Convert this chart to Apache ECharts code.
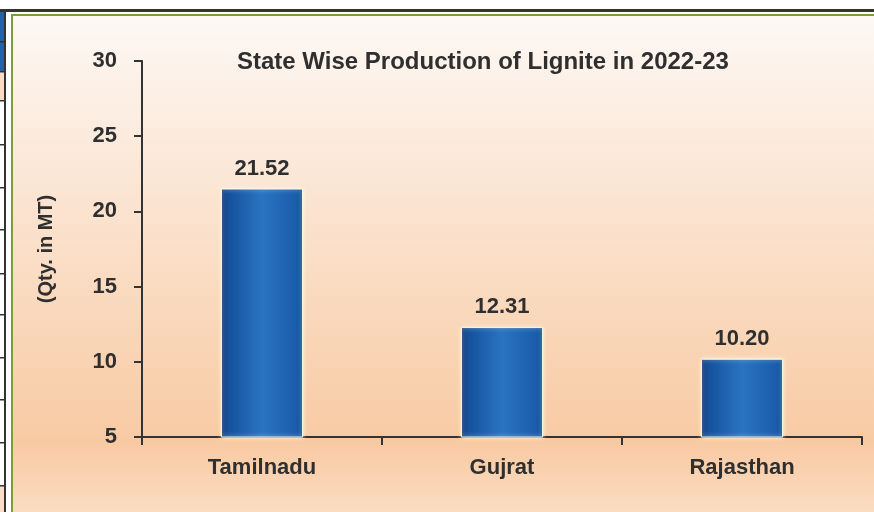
<!DOCTYPE html>
<html>
<head>
<meta charset="utf-8">
<script src="https://cdn.jsdelivr.net/npm/echarts@6/dist/echarts.min.js"></script>
<style>
  html, body { margin: 0; padding: 0; background: #fff; }
  #chart { width: 874px; height: 512px; }
</style>
</head>
<body>
<div id="chart"></div>
<script>
const states = ['Tamilnadu', 'Gujrat', 'Rajasthan']
const production = [21.52, 12.31, 10.20]
const yTicks = { min: 5, max: 30, step: 5 }

const textColor = '#2f2f2f'
const font = 'Liberation Sans, Arial, sans-serif'

// horizontal rule positions of the table strip at the left edge
const stripRows = [41, 71, 100, 144, 187, 229, 273, 314, 357, 399, 442, 485]

function frameGraphics() {
  const items = [
    {
      type: 'rect', z: -10, silent: true,
      shape: { x: 13, y: 16, width: 861, height: 496 },
      style: {
        fill: new echarts.graphic.LinearGradient(0, 0, 0, 1, [
          { offset: 0, color: '#fdf8f4' },
          { offset: 0.3, color: '#fbe8d8' },
          { offset: 0.86, color: '#f8caa3' },
          { offset: 1, color: '#fbdcc1' }
        ])
      }
    },
    { type: 'rect', z: -9, silent: true, shape: { x: 0, y: 12, width: 4, height: 29 }, style: { fill: '#1f63ad' } },
    { type: 'rect', z: -9, silent: true, shape: { x: 0, y: 42, width: 4, height: 29 }, style: { fill: '#1f63ad' } },
    { type: 'rect', z: -9, silent: true, shape: { x: 0, y: 72, width: 4, height: 28 }, style: { fill: '#f9dcc3' } },
    { type: 'rect', z: -9, silent: true, shape: { x: 0, y: 486, width: 4, height: 26 }, style: { fill: '#f9dcc3' } },
    // dark outer frame
    { type: 'rect', z: -8, silent: true, shape: { x: 0, y: 9, width: 874, height: 3 }, style: { fill: '#333333' } },
    { type: 'rect', z: -8, silent: true, shape: { x: 4, y: 9, width: 2, height: 503 }, style: { fill: '#333333' } },
    // green inner frame
    { type: 'rect', z: -8, silent: true, shape: { x: 11, y: 14, width: 863, height: 2 }, style: { fill: '#7a9e3a' } },
    { type: 'rect', z: -8, silent: true, shape: { x: 11, y: 14, width: 2, height: 498 }, style: { fill: '#7a9e3a' } }
  ]
  stripRows.forEach(y => {
    items.push({
      type: 'rect', z: -8, silent: true,
      shape: { x: 0, y: y, width: 4, height: 1.5 },
      style: { fill: '#333333' }
    })
  })
  return items
}

const barFill = new echarts.graphic.LinearGradient(0, 0, 1, 0, [
  { offset: 0, color: '#0a3670' },
  { offset: 0.08, color: '#14509a' },
  { offset: 0.5, color: '#2a74c2' },
  { offset: 0.9, color: '#1a5ead' },
  { offset: 1, color: '#154f95' }
])

const chart = echarts.init(document.getElementById('chart'))
chart.setOption({
  animation: false,
  backgroundColor: '#ffffff',
  title: {
    text: 'State Wise Production of Lignite in 2022-23',
    left: 232,
    top: 45,
    textStyle: { color: textColor, fontFamily: font, fontSize: 24, fontWeight: 'bold' }
  },
  graphic: frameGraphics(),
  grid: { left: 142, right: 12, top: 61, bottom: 75 },
  xAxis: {
    type: 'category',
    data: states,
    axisLine: { lineStyle: { color: '#333333', width: 2 } },
    axisTick: { show: true, length: 8, lineStyle: { color: '#333333', width: 2 } },
    axisLabel: { color: textColor, fontFamily: font, fontSize: 22, fontWeight: 'bold', margin: 20 }
  },
  yAxis: {
    type: 'value',
    min: yTicks.min,
    max: yTicks.max,
    interval: yTicks.step,
    name: '(Qty. in MT)',
    nameLocation: 'middle',
    nameGap: 86,
    nameRotate: 90,
    nameTextStyle: { color: textColor, fontFamily: font, fontSize: 20, fontWeight: 'bold' },
    axisLine: { show: true, lineStyle: { color: '#333333', width: 2 } },
    axisTick: { show: true, length: 8, lineStyle: { color: '#333333', width: 2 } },
    axisLabel: { color: textColor, fontFamily: font, fontSize: 22, fontWeight: 'bold', margin: 25 },
    splitLine: { show: false }
  },
  series: [
    {
      type: 'bar',
      data: production,
      barWidth: 82,
      itemStyle: {
        color: barFill,
        borderColor: 'rgba(255, 252, 235, 0.9)',
        borderWidth: 1,
        shadowColor: 'rgba(255, 250, 225, 0.9)',
        shadowBlur: 4
      },
      label: {
        show: true,
        position: 'top',
        distance: 9,
        color: textColor,
        fontFamily: font,
        fontSize: 22,
        fontWeight: 'bold',
        formatter: p => p.value.toFixed(2)
      }
    }
  ]
})
</script>
</body>
</html>
